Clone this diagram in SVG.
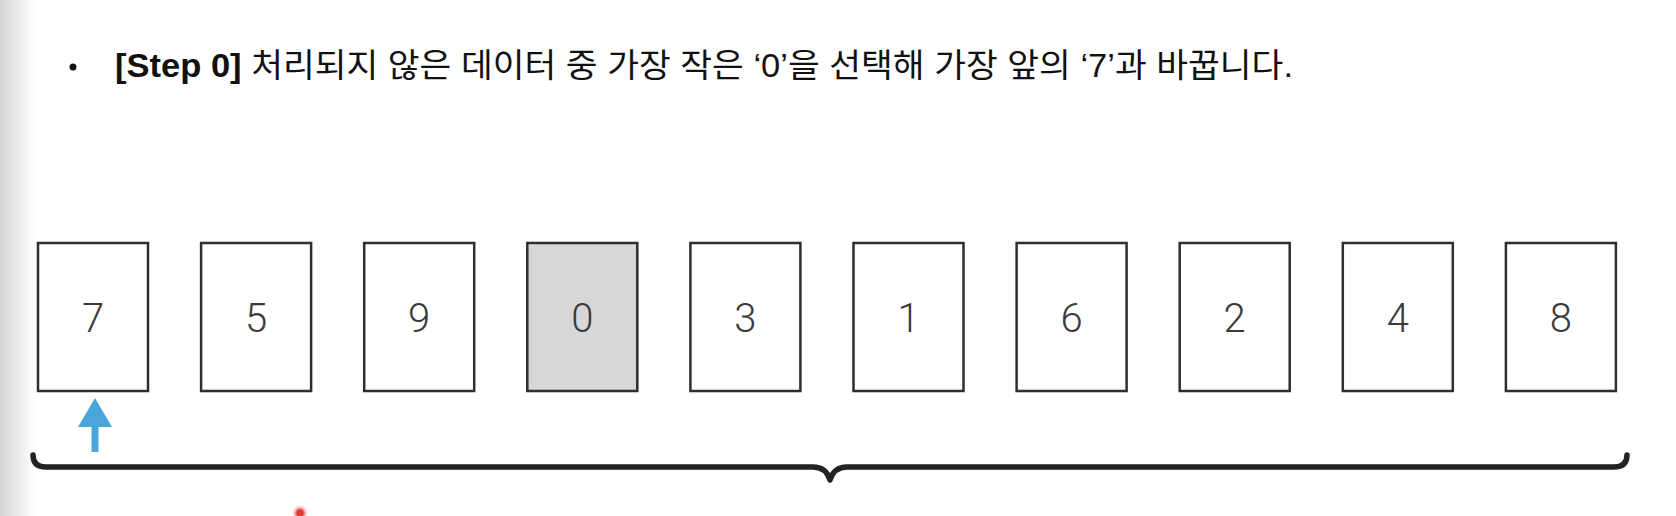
<svg xmlns="http://www.w3.org/2000/svg" width="1676" height="516" viewBox="0 0 1676 516">
<defs>
<linearGradient id="edge" x1="0" y1="0" x2="1" y2="0">
<stop offset="0" stop-color="#d4d4d4"/>
<stop offset="0.6" stop-color="#efefef"/>
<stop offset="1" stop-color="#ffffff"/>
</linearGradient>
<radialGradient id="glow">
<stop offset="0.35" stop-color="#e53935"/>
<stop offset="0.6" stop-color="#f4a09e" stop-opacity="0.7"/>
<stop offset="1" stop-color="#ffffff" stop-opacity="0"/>
</radialGradient>
</defs>
<style>
.box{fill:#ffffff;stroke:#2e2e2e;stroke-width:2.5}
.sel{fill:#d7d7d9}
.num{font-family:Roboto,"Liberation Sans",Arial,sans-serif;font-weight:300;font-size:40px;fill:#3a3a3a;text-anchor:middle}
.title{font-family:"Liberation Sans","Noto Sans CJK KR",sans-serif;font-size:33px;fill:#111111}
.brace{fill:none;stroke:#232323;stroke-width:5.5;stroke-linecap:round;stroke-linejoin:round}
.arrow{fill:#4aa5d9}
</style>
<rect x="0" y="0" width="1676" height="516" fill="#ffffff"/>
<rect x="0" y="0" width="36" height="516" fill="url(#edge)"/>

<g id="title">
<circle cx="73" cy="67" r="3.5" fill="#111111"/>
<text class="title" x="115" y="77" textLength="1178" lengthAdjust="spacingAndGlyphs"><tspan font-weight="bold">[Step 0]</tspan> 처리되지 않은 데이터 중 가장 작은 ‘0’을 선택해 가장 앞의 ‘7’과 바꿉니다.</text>
</g>

<g id="node-0"><rect class="box" x="38" y="243" width="110" height="148"/><text class="num" x="93" y="332">7</text></g>
<g id="node-1"><rect class="box" x="201.1" y="243" width="110" height="148"/><text class="num" x="256.1" y="332">5</text></g>
<g id="node-2"><rect class="box" x="364.2" y="243" width="110" height="148"/><text class="num" x="419.2" y="332">9</text></g>
<g id="node-3"><rect class="box sel" x="527.3" y="243" width="110" height="148"/><text class="num" x="582.3" y="332">0</text></g>
<g id="node-4"><rect class="box" x="690.4" y="243" width="110" height="148"/><text class="num" x="745.4" y="332">3</text></g>
<g id="node-5"><rect class="box" x="853.5" y="243" width="110" height="148"/><text class="num" x="908.5" y="332">1</text></g>
<g id="node-6"><rect class="box" x="1016.6" y="243" width="110" height="148"/><text class="num" x="1071.6" y="332">6</text></g>
<g id="node-7"><rect class="box" x="1179.7" y="243" width="110" height="148"/><text class="num" x="1234.7" y="332">2</text></g>
<g id="node-8"><rect class="box" x="1342.8" y="243" width="110" height="148"/><text class="num" x="1397.8" y="332">4</text></g>
<g id="node-9"><rect class="box" x="1505.9" y="243" width="110" height="148"/><text class="num" x="1560.9" y="332">8</text></g>

<g id="connectors">
<g id="pointer">
<polygon class="arrow" points="95,398 112,427 78,427"/>
<rect class="arrow" x="91.5" y="426" width="7" height="26"/>
</g>
<path id="brace" class="brace" d="M33,455 Q33,467 46,467 L813,467 Q826,467 830,480 Q834,467 847,467 L1614,467 Q1627,467 1627,455"/>
</g>

<circle cx="300" cy="513" r="9" fill="url(#glow)"/>
</svg>
